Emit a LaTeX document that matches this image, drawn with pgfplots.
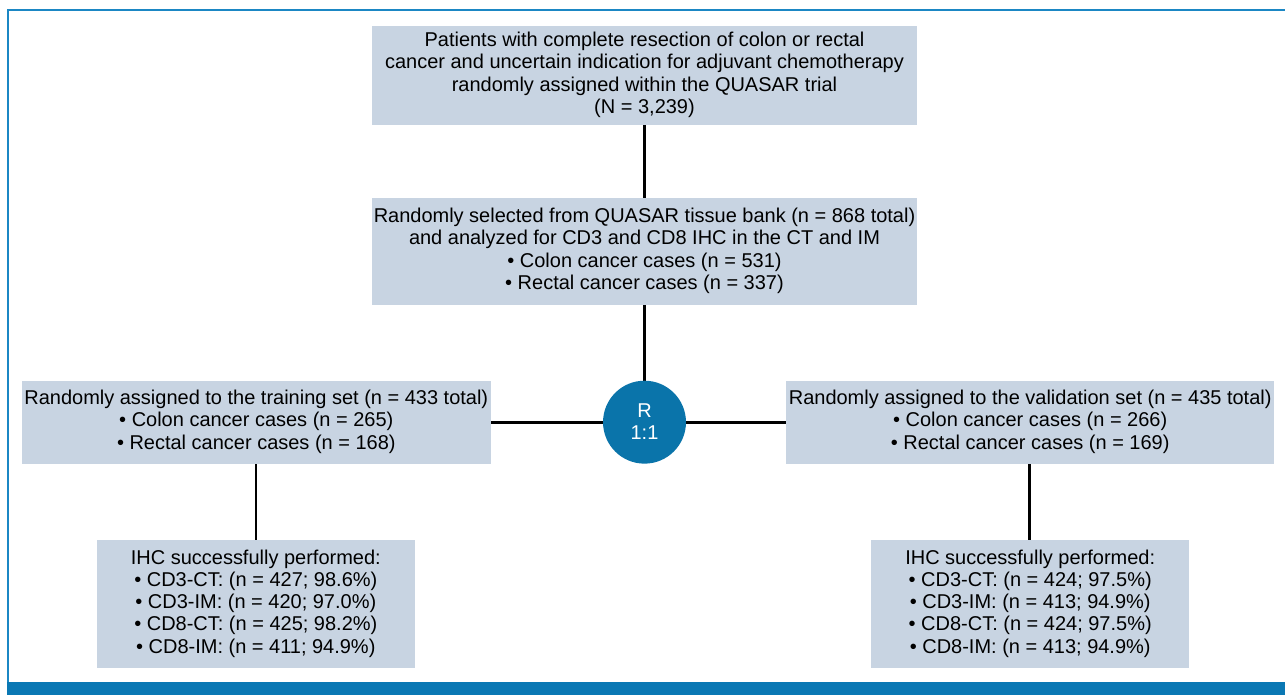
\documentclass[border=0pt]{standalone}
\usepackage{pgfplots}
\pgfplotsset{compat=1.18}
\usepackage{fontspec}
\setmainfont{Liberation Sans}
\definecolor{boxfill}{HTML}{C8D4E2}
\definecolor{qblue}{HTML}{0A74AA}
\definecolor{barblue}{HTML}{0A78B4}
\definecolor{frameblue}{HTML}{1B87C4}
\begin{document}
\begin{tikzpicture}
\begin{axis}[width=1286bp,height=696bp,scale only axis,
  xmin=0,xmax=1286,ymin=0,ymax=696,y dir=reverse,hide axis,clip=false]
% background / bounding box
\fill[white] (axis cs:0,0) rectangle (axis cs:1286,696);
% frame
\addplot[frameblue,line width=2bp] coordinates {(8,683) (8,10) (1286,10)};
\fill[barblue] (axis cs:7,683) rectangle (axis cs:1286,696);
% connectors
\addplot[black,line width=2.6bp] coordinates {(645,125) (645,198)};
\addplot[black,line width=2.6bp] coordinates {(645,305) (645,390)};
\addplot[black,line width=2.6bp] coordinates {(491,423) (787,423)};
\addplot[black,line width=2.6bp] coordinates {(256,464) (256,540)};
\addplot[black,line width=2.6bp] coordinates {(1030,464) (1030,540)};
% boxes
\fill[boxfill] (axis cs:372,26) rectangle (axis cs:918,125);
\fill[boxfill] (axis cs:372,198) rectangle (axis cs:918,305);
\fill[boxfill] (axis cs:22,381) rectangle (axis cs:491,464);
\fill[boxfill] (axis cs:787,381) rectangle (axis cs:1275,464);
\fill[boxfill] (axis cs:97,540) rectangle (axis cs:415,669);
\fill[boxfill] (axis cs:872,540) rectangle (axis cs:1190,669);
\fill[qblue] (axis cs:645,422.5) circle[radius=41.5bp];
% texts
\tikzset{bt/.style={align=center,inner sep=0pt,font=\fontsize{20bp}{22.3bp}\selectfont}}
\node[bt] at (axis cs:645,75) {Patients with complete resection of colon or rectal\\cancer and uncertain indication for adjuvant chemotherapy\\randomly assigned within the QUASAR trial\\(N = 3,239)};
\node[bt] at (axis cs:645,251) {Randomly selected from QUASAR tissue bank (n = 868 total)\\and analyzed for CD3 and CD8 IHC in the CT and IM\\• Colon cancer cases (n = 531)\\• Rectal cancer cases (n = 337)};
\node[bt] at (axis cs:256.5,422) {Randomly assigned to the training set (n = 433 total)\\• Colon cancer cases (n = 265)\\• Rectal cancer cases (n = 168)};
\node[bt] at (axis cs:1031,422) {Randomly assigned to the validation set (n = 435 total)\\• Colon cancer cases (n = 266)\\• Rectal cancer cases (n = 169)};
\node[bt] at (axis cs:256,604) {IHC successfully performed:\\• CD3-CT: (n = 427; 98.6\%)\\• CD3-IM: (n = 420; 97.0\%)\\• CD8-CT: (n = 425; 98.2\%)\\• CD8-IM: (n = 411; 94.9\%)};
\node[bt] at (axis cs:1031,604) {IHC successfully performed:\\• CD3-CT: (n = 424; 97.5\%)\\• CD3-IM: (n = 413; 94.9\%)\\• CD8-CT: (n = 424; 97.5\%)\\• CD8-IM: (n = 413; 94.9\%)};
\node[bt,text=white] at (axis cs:645,422) {R\\1:1};
\end{axis}
\end{tikzpicture}
\end{document}
